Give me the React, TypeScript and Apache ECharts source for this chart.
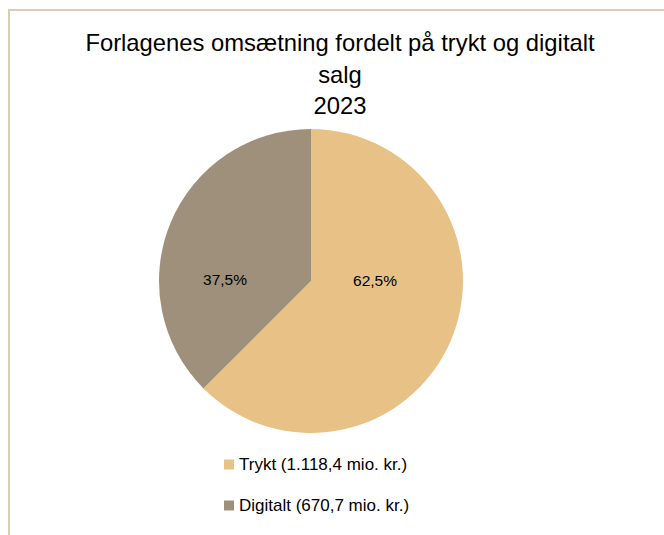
import React, { useEffect, useRef } from "react";
import * as echarts from "echarts";

const titleLines = ["Forlagenes omsætning fordelt på trykt og digitalt", "salg", "2023"];
const categories = ["Trykt (1.118,4 mio. kr.)", "Digitalt (670,7 mio. kr.)"];
const values = [1118.4, 670.7];
const colors = ["#E8C186", "#9E907A"];

export default function App() {
  const ref = useRef<HTMLDivElement>(null);
  useEffect(() => {
    if (!ref.current) return;
    const chart = echarts.init(ref.current, null, { renderer: "svg" });
    const labelShift = [
      { dx: -9, dy: -31 },
      { dx: -13, dy: 29 },
    ];
    chart.setOption({
      animation: false,
      backgroundColor: "#ffffff",
      title: {
        text: titleLines.join("\n"),
        left: 340,
        top: 27,
        padding: 0,
        textAlign: "center",
        textStyle: {
          fontFamily: "Liberation Sans",
          fontSize: 23.8,
          fontWeight: "normal",
          color: "#000000",
          lineHeight: 31.5,
        },
      },
      legend: {
        orient: "vertical",
        left: 224,
        top: 456,
        padding: 0,
        itemWidth: 10,
        itemHeight: 10,
        itemGap: 24,
        icon: "rect",
        data: categories,
        textStyle: {
          fontFamily: "Liberation Sans",
          fontSize: 17,
          lineHeight: 17,
          color: "#000000",
          padding: [0, 0, 0, 0],
        },
      },
      graphic: [
        {
          type: "rect",
          shape: { x: 9, y: 10, width: 720, height: 620 },
          style: { fill: "none", stroke: "#D8CFB3", lineWidth: 2 },
          silent: true,
        },
      ],
      series: [
        {
          type: "pie",
          center: [311, 281],
          radius: 152,
          startAngle: 90,
          clockwise: true,
          data: categories.map((c, i) => ({ name: c, value: values[i], itemStyle: { color: colors[i] } })),
          label: {
            position: "inside",
            fontFamily: "Liberation Sans",
            fontSize: 15.5,
            color: "#000000",
            formatter: (p: any) => p.percent.toFixed(1).replace(".", ",") + "%",
          },
          labelLayout: (p: any) => labelShift[p.dataIndex],
          emphasis: { disabled: true },
        },
      ],
    });
    return () => chart.dispose();
  }, []);
  return <div ref={ref} style={{ position: "fixed", left: 0, top: 0, width: 664, height: 535 }} />;
}
